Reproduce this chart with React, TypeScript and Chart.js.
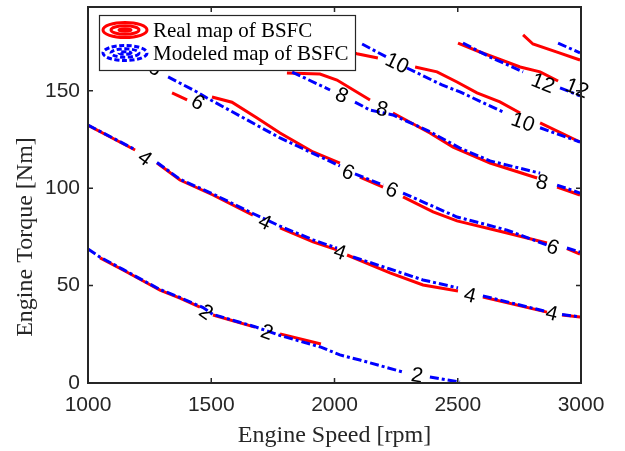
import { useEffect, useRef } from "react";
import { Chart, registerables } from "chart.js";

Chart.register(...registerables);

// ---- axes ----
const speedTicks = [1000, 1500, 2000, 2500, 3000];
const torqueTicks = [0, 50, 100, 150];
const speedMin = 1000;
const speedMax = 3000;
const torqueMin = 0;
const torqueMax = 193;

// ---- contour level 2 (null = gap in the line) ----
const realSpeed2 = [1049, 1142, 1239, 1292, 1373, 1454, null, 1507, 1677, null, 1779, 1945];
const realTorque2 = [64.2, 58, 51.3, 47.7, 43.6, 39, null, 34.9, 28.7, null, 25.2, 20];
const modelSpeed2 = [1000, 1049, 1142, 1239, 1292, 1373, 1467, 1507, 1677, 1779, 1945, 2022, 2103, 2278, null, 2387, 2509];
const modelTorque2 = [68.8, 64.6, 58.3, 51.6, 48, 43.9, 38.7, 35.2, 28.9, 24.4, 18.4, 14.4, 11.8, 5.6, null, 3.1, 0.5];

// ---- contour level 4 ----
const realSpeed4 = [1000, 1191, null, 1280, 1373, 1507, 1669, null, 1779, 1913, 2010, null, 2051, 2225, 2359, 2501, null, 2602, 2862, null, 2923, 2996];
const realTorque4 = [132.3, 119.6, null, 112.9, 104.2, 96.5, 86.2, null, 79.6, 72.4, 68.3, null, 65.7, 56.5, 50.3, 47.2, null, 44.1, 36.4, null, 34.9, 33.9];
const modelSpeed4 = [1000, 1191, null, 1280, 1373, 1507, 1669, 1779, 1913, 2010, null, 2075, 2225, 2359, 2501, null, 2602, 2862, null, 2923, 2996];
const modelTorque4 = [132.4, 119.8, null, 113.2, 104.6, 97, 87, 80.5, 73.5, 69.2, null, 64.7, 58.5, 52.9, 48.8, null, 44.7, 36.6, null, 35.2, 33.9];

// ---- contour level 6 ----
const realSpeed6 = [1341, 1402, null, 1503, 1584, 1686, 1779, 1913, 2022, null, 2103, 2197, null, 2278, 2400, 2497, 2700, 2862, null, 2943, 2996];
const realTorque6 = [148.9, 145.3, null, 146.8, 144.1, 136, 128.3, 118.6, 112.9, null, 105.7, 100.6, null, 95.5, 87.8, 83.2, 77, 71.9, null, 69, 66.2];
const modelSpeed6 = [1325, 1442, 1483, 1779, 2022, null, 2083, 2197, null, 2278, 2497, 2700, 2862, null, 2943, 2996];
const modelTorque6 = [157.1, 149.4, 146.3, 125.8, 111.4, null, 107.3, 101.6, null, 97.5, 85.2, 78.5, 70.8, null, 69.3, 67.2];

// ---- contour level 8 ----
const realSpeed8 = [1807, 1941, 2010, 2144, null, 2237, 2387, 2481, 2631, 2822, null, 2903, 2996];
const realTorque8 = [159.1, 158.6, 155.5, 145.3, null, 138.6, 128.3, 121.1, 112.9, 105.2, null, 100.6, 96.5];
const modelSpeed8 = [1828, 1982, null, 2083, 2144, 2237, 2387, 2509, 2631, 2834, null, 2903, 2996];
const modelTorque8 = [159.6, 150.4, null, 144.2, 140.1, 137.6, 129, 120.6, 114, 107.7, null, 101.6, 97.5];

// ---- contour level 10 ----
const realSpeed10 = [2063, 2091, 2176, null, 2327, 2416, 2497, 2578, 2671, 2753, null, 2834, 2996];
const realTorque10 = [170, 169, 166.8, null, 162.2, 159.7, 154.5, 148.9, 144.3, 138.6, null, 133.5, 123.7];
const modelSpeed10 = [2112, 2213, null, 2294, 2436, 2509, 2684, null, 2834, 2996];
const modelTorque10 = [174, 167.2, null, 161.7, 153, 149.4, 139.1, null, 131, 123.7];

// ---- contour level 12 ----
const realSpeed12 = [2501, 2590, 2753, 2834, 2907, null, 2765, 2805, 2903, 2996];
const realTorque12 = [174.5, 169.9, 162.2, 159.7, 155, null, 178.7, 174, 169.8, 165.8];
const modelSpeed12 = [2521, 2631, 2765, null, 2915, 2996, null, 2907, 2996];
const modelTorque12 = [174.5, 167.3, 159.7, null, 151.5, 147.4, null, 174.5, 169.4];

// ---- contour labels ----
const labelText = ["2", "2", "2", "4", "4", "4", "4", "4", "6", "6", "6", "6", "6", "8", "8", "8", "10", "10", "12", "12"];
const labelSpeed = [1479, 1726, 2335, 1231, 1718, 2022, 2550, 2882, 1272, 1446, 2055, 2233, 2886, 2030, 2193, 2842, 2254, 2765, 2846, 2984];
const labelTorque = [36.4, 26.2, 4.1, 115.5, 82.6, 67.2, 45.2, 35.9, 161.7, 144.2, 108.3, 99.1, 69.8, 147.8, 140.7, 103.2, 164.3, 134, 154, 151.4];

const legendLabels = ["Real map of BSFC", "Modeled map of BSFC"];
const xTitle = "Engine Speed [rpm]";
const yTitle = "Engine Torque [Nm]";

const levels = [2, 4, 6, 8, 10, 12];
const realLines: Record<number, [(number | null)[], (number | null)[]]> = {
  2: [realSpeed2, realTorque2],
  4: [realSpeed4, realTorque4],
  6: [realSpeed6, realTorque6],
  8: [realSpeed8, realTorque8],
  10: [realSpeed10, realTorque10],
  12: [realSpeed12, realTorque12],
};
const modelLines: Record<number, [(number | null)[], (number | null)[]]> = {
  2: [modelSpeed2, modelTorque2],
  4: [modelSpeed4, modelTorque4],
  6: [modelSpeed6, modelTorque6],
  8: [modelSpeed8, modelTorque8],
  10: [modelSpeed10, modelTorque10],
  12: [modelSpeed12, modelTorque12],
};

const RED = "#ff0000";
const BLUE = "#0000ff";
const AXIS = "#262626";
const BLUE_DASH = [9, 3, 3, 3];

const toPoints = (sp: (number | null)[], tq: (number | null)[]) =>
  sp.map((s, i) => ({ x: s, y: tq[i] }));

function labelAngle(chart: any, level: number, px: number, py: number) {
  const [sp, tq] = modelLines[level];
  const xs = chart.scales.x;
  const ys = chart.scales.y;
  let best = Infinity;
  let ang = 0;
  for (let i = 0; i < sp.length - 1; i++) {
    if (sp[i] == null || sp[i + 1] == null) continue;
    const x1 = xs.getPixelForValue(sp[i]);
    const y1 = ys.getPixelForValue(tq[i]);
    const x2 = xs.getPixelForValue(sp[i + 1]);
    const y2 = ys.getPixelForValue(tq[i + 1]);
    const dx = x2 - x1;
    const dy = y2 - y1;
    const len2 = dx * dx + dy * dy || 1;
    let t = ((px - x1) * dx + (py - y1) * dy) / len2;
    t = Math.max(0, Math.min(1, t));
    const cx = x1 + t * dx - px;
    const cy = y1 + t * dy - py;
    const d = cx * cx + cy * cy;
    if (d < best) {
      best = d;
      ang = Math.atan2(dy, dx);
    }
  }
  if (ang > Math.PI / 2) ang -= Math.PI;
  if (ang < -Math.PI / 2) ang += Math.PI;
  return ang;
}

function drawRings(ctx: CanvasRenderingContext2D, cx: number, cy: number, color: string, dash: number[]) {
  ctx.save();
  ctx.strokeStyle = color;
  ctx.lineWidth = 3;
  ctx.setLineDash(dash);
  const rings = [
    [22, 7.5],
    [14, 4.2],
    [6, 1.2],
  ];
  for (const [rx, ry] of rings) {
    ctx.beginPath();
    ctx.ellipse(cx, cy, rx, ry, 0, 0, Math.PI * 2);
    ctx.stroke();
  }
  ctx.restore();
}

const overlayPlugin = {
  id: "overlay",
  afterDatasetsDraw(chart: any) {
    const { ctx, chartArea: a, scales } = chart;
    const xs = scales.x;
    const ys = scales.y;

    // contour labels
    ctx.save();
    ctx.font = '21px "Liberation Sans", Arial, sans-serif';
    ctx.fillStyle = "#000";
    ctx.textAlign = "center";
    ctx.textBaseline = "middle";
    labelText.forEach((txt, i) => {
      const px = xs.getPixelForValue(labelSpeed[i]);
      const py = ys.getPixelForValue(labelTorque[i]);
      const ang = labelAngle(chart, Number(txt), px, py);
      ctx.save();
      ctx.translate(px, py);
      ctx.rotate(ang);
      ctx.fillText(txt, 0, 1);
      ctx.restore();
    });
    ctx.restore();

    // frame + inward ticks
    ctx.save();
    ctx.strokeStyle = AXIS;
    ctx.lineWidth = 2;
    ctx.strokeRect(a.left, a.top, a.right - a.left, a.bottom - a.top);
    ctx.lineWidth = 1.5;
    ctx.beginPath();
    speedTicks.forEach((v) => {
      const px = xs.getPixelForValue(v);
      ctx.moveTo(px, a.bottom);
      ctx.lineTo(px, a.bottom - 5);
      ctx.moveTo(px, a.top);
      ctx.lineTo(px, a.top + 5);
    });
    torqueTicks.forEach((v) => {
      const py = ys.getPixelForValue(v);
      ctx.moveTo(a.left, py);
      ctx.lineTo(a.left + 5, py);
      ctx.moveTo(a.right, py);
      ctx.lineTo(a.right - 5, py);
    });
    ctx.stroke();
    ctx.restore();

    // legend
    ctx.save();
    const lx = a.left + 11;
    const ly = a.top + 8;
    const lw = 256;
    const lh = 55;
    ctx.fillStyle = "#ffffff";
    ctx.fillRect(lx, ly, lw, lh);
    ctx.strokeStyle = AXIS;
    ctx.lineWidth = 1.2;
    ctx.strokeRect(lx + 0.5, ly + 0.5, lw, lh);
    drawRings(ctx, lx + 26, ly + 15, RED, []);
    drawRings(ctx, lx + 26, ly + 38, BLUE, [5, 2.5]);
    ctx.fillStyle = "#000";
    ctx.font = '21px "Liberation Serif", "Times New Roman", serif';
    ctx.textAlign = "left";
    ctx.textBaseline = "middle";
    ctx.fillText(legendLabels[0], lx + 54, ly + 16);
    ctx.fillText(legendLabels[1], lx + 54, ly + 39);
    ctx.restore();

    // axis titles
    ctx.save();
    ctx.fillStyle = AXIS;
    ctx.font = '24px "Liberation Serif", "Times New Roman", serif';
    ctx.textAlign = "center";
    ctx.textBaseline = "middle";
    ctx.fillText(xTitle, (a.left + a.right) / 2, 436);
    ctx.translate(26, 237);
    ctx.rotate(-Math.PI / 2);
    ctx.fillText(yTitle, 0, 0);
    ctx.restore();
  },
};

export default function App() {
  const ref = useRef<HTMLCanvasElement | null>(null);

  useEffect(() => {
    document.body.style.margin = "0";
    if (!ref.current) return;

    const datasets: any[] = [];
    levels.forEach((lv) => {
      const [ms, mt] = modelLines[lv];
      datasets.push({
        label: `Modeled ${lv}`,
        data: toPoints(ms, mt),
        borderColor: BLUE,
        borderWidth: 3,
        borderDash: BLUE_DASH,
        pointRadius: 0,
        tension: 0,
        fill: false,
        order: 0,
      });
    });
    levels.forEach((lv) => {
      const [rs, rt] = realLines[lv];
      datasets.push({
        label: `Real ${lv}`,
        data: toPoints(rs, rt),
        borderColor: RED,
        borderWidth: 3,
        pointRadius: 0,
        tension: 0,
        fill: false,
        order: 1,
      });
    });

    const tickFont = { family: '"Liberation Sans", Arial, sans-serif', size: 21 };

    const chart = new Chart(ref.current, {
      type: "line",
      data: { datasets },
      options: {
        animation: false,
        responsive: false,
        events: [],
        layout: { padding: { top: 7, right: 44, left: 0, bottom: 0 } },
        plugins: { legend: { display: false }, tooltip: { enabled: false } },
        scales: {
          x: {
            type: "linear",
            min: speedMin,
            max: speedMax,
            grid: { display: false, drawTicks: false },
            border: { display: false },
            ticks: { font: tickFont, color: AXIS, padding: 10, maxRotation: 0, callback: (v: any) => String(v) },
            afterBuildTicks: (s: any) => {
              s.ticks = speedTicks.map((v) => ({ value: v }));
            },
            afterFit: (s: any) => {
              s.height = 68;
              s.paddingLeft = 0;
              s.paddingRight = 0;
            },
          },
          y: {
            type: "linear",
            min: torqueMin,
            max: torqueMax,
            grid: { display: false, drawTicks: false },
            border: { display: false },
            ticks: { font: tickFont, color: AXIS, padding: 8, callback: (v: any) => String(v) },
            afterBuildTicks: (s: any) => {
              s.ticks = torqueTicks.map((v) => ({ value: v }));
            },
            afterFit: (s: any) => {
              s.width = 88;
              s.paddingTop = 0;
              s.paddingBottom = 0;
            },
          },
        },
      },
      plugins: [overlayPlugin],
    });

    return () => chart.destroy();
  }, []);

  return (
    <div style={{ width: 625, height: 451, background: "#fff" }}>
      <canvas ref={ref} width={625} height={451} style={{ display: "block" }} />
    </div>
  );
}
